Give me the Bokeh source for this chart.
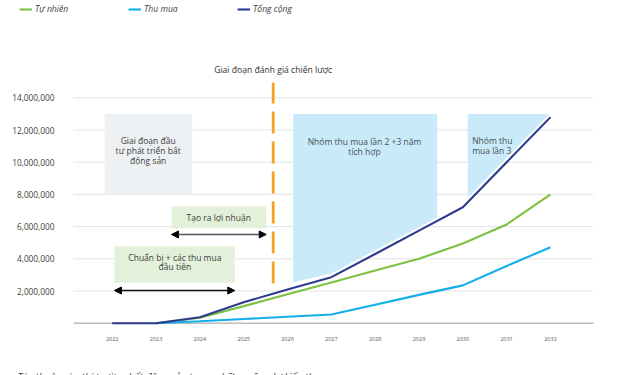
import numpy as np
from bokeh.plotting import figure
from bokeh.models import (FixedTicker, NumeralTickFormatter, Range1d, Label,
                          Arrow, NormalHead)
from bokeh.embed import file_html
from bokeh.resources import INLINE

FONT = "Open Sans"

# ---------------- data ----------------
years = [2022, 2023, 2024, 2025, 2026, 2027, 2028, 2029, 2030, 2031, 2032]
organic = [np.nan, 0, 0.34e6, 1.06e6, 1.80e6, 2.53e6, 3.27e6, 4.00e6, 4.95e6, 6.13e6, 8.00e6]
acquired = [np.nan, 0, 0.12e6, 0.26e6, 0.40e6, 0.54e6, 1.15e6, 1.76e6, 2.35e6, 3.55e6, 4.72e6]
total = [0, 0, 0.37e6, 1.30e6, 2.10e6, 2.86e6, 4.30e6, 5.75e6, 7.20e6, 10.00e6, 12.80e6]
y_ticks = [2e6, 4e6, 6e6, 8e6, 10e6, 12e6, 14e6]
series_names = ["Tự nhiên", "Thu mua", "Tổng cộng"]
series_colors = ["#7cc142", "#12aeea", "#2e3b8f"]

# annotation texts
title_text = "Giai đoạn đánh giá chiến lược"
phase1_lines = ["Giai đoạn đầu", "tư phát triển bất", "động sản"]
profit_text = "Tạo ra lợi nhuận"
prep_lines = ["Chuẩn bị + các thu mua", "đầu tiên"]
acq2_lines = ["Nhóm thu mua lần 2 +3 năm", "tích hợp"]
acq3_lines = ["Nhóm thu", "mua lần 3"]
footer_text = "Tùy thuộc vào thị trường bất động sản trong những năm dự kiến thu mua"

# plot-area extent (data units)
X_LO, X_HI = 2021.117, 2032.98

# ---------------- figure ----------------
p = figure(width=640, height=375,
           x_range=Range1d(2019.4516, 2034.0534),
           y_range=Range1d(-3.2484e6, 20.0435e6),
           output_backend="svg", toolbar_location=None,
           min_border_left=0, min_border_right=0,
           min_border_top=0, min_border_bottom=0)
p.outline_line_color = None
p.grid.visible = False

p.yaxis.fixed_location = X_LO
p.yaxis.ticker = FixedTicker(ticks=y_ticks)
p.yaxis.formatter = NumeralTickFormatter(format="0,0")
p.yaxis.axis_line_color = None
p.yaxis.major_tick_line_color = None
p.yaxis.minor_tick_line_color = None
p.yaxis.major_label_text_font_size = "8.3px"
p.yaxis.major_label_text_color = "#404040"
p.yaxis.major_label_text_font = FONT
p.yaxis.major_label_standoff = 13

p.xaxis.fixed_location = 0
p.xaxis.ticker = FixedTicker(ticks=years)
p.xaxis.axis_line_color = None
p.xaxis.major_tick_line_color = None
p.xaxis.minor_tick_line_color = None
p.xaxis.major_label_text_font_size = "5.5px"
p.xaxis.major_label_text_color = "#595959"
p.xaxis.major_label_text_font = FONT
p.xaxis.major_label_standoff = 8

# horizontal grid lines and baseline over the plot area
p.segment(x0=[X_LO] * len(y_ticks), x1=[X_HI] * len(y_ticks), y0=y_ticks, y1=y_ticks,
          line_color="#e4e4e4", line_width=1, level="underlay")

# ---------------- background boxes ----------------
p.quad(left=2021.824, right=2023.825, bottom=8.0e6, top=13.0e6,
       fill_color="#eef1f3", line_color=None)
p.quad(left=2023.353, right=2025.514, bottom=5.9e6, top=7.25e6,
       fill_color="#e3f0da", line_color=None)
p.quad(left=2022.05, right=2024.797, bottom=2.51e6, top=4.78e6,
       fill_color="#e3f0da", line_color=None)

gap = 0.22e6
box_top = 13.0e6
a2_x = [2026.13, 2029.415, 2029.415, 2027.0, 2026.13]
a2_y = [box_top, box_top,
        np.interp(2029.415, years, total) + gap,
        np.interp(2027.0, years, total) + gap,
        np.interp(2026.13, years, total) + gap + 0.12e6]
p.patch(a2_x, a2_y, fill_color="#c9ebf9", line_color=None)

tot_gap = np.array(total[2:]) + 0.27e6
x_star = float(np.interp(box_top, tot_gap, years[2:]))
a3_x0 = 2030.113
a3_x = [a3_x0, x_star, a3_x0]
a3_y = [box_top, box_top, np.interp(a3_x0, years, total) + 0.29e6]
p.patch(a3_x, a3_y, fill_color="#c9ebf9", line_color=None)

p.segment(x0=X_LO, x1=X_HI, y0=0, y1=0, line_color="#bdbdbd", line_width=1.6)

# ---------------- strategic line ----------------
p.segment(x0=2025.673, y0=2.47e6, x1=2025.673, y1=14.95e6,
          line_color="#f6a21c", line_width=2.8, line_dash="22 8")

# ---------------- series ----------------
for vals, name, col in zip([organic, acquired, total], series_names, series_colors):
    p.line(years, vals, line_color=col, line_width=2.1, legend_label=name)

# ---------------- legend ----------------
lg = p.legend[0]
lg.orientation = "horizontal"
lg.location = (19, 360)
lg.margin = 0
lg.padding = 0
lg.spacing = 0
lg.glyph_width = 13
lg.glyph_height = 10
lg.label_height = 10
lg.label_width = 93
lg.label_standoff = 3
lg.border_line_color = None
lg.background_fill_alpha = 0
lg.label_text_font = FONT
lg.label_text_font_style = "italic"
lg.label_text_font_size = "8.6px"
lg.label_text_color = "#404040"

# ---------------- texts ----------------
def label(x, y, text, align="center", color="#404040", size="8.5px", baseline="middle",
          style="normal"):
    p.add_layout(Label(x=x, y=y, text=text, text_align=align, text_baseline=baseline,
                       text_font=FONT, text_font_size=size, text_color=color,
                       text_font_style=style))

label(2025.673, 15.7e6, title_text, color="#333333", size="8.6px")
for i, t in enumerate(phase1_lines):
    label(2022.82, 11.35e6 - i * 0.62e6, t)
label(2024.43, 6.58e6, profit_text)
for i, t in enumerate(prep_lines):
    label(2023.43, 4.1e6 - i * 0.56e6, t)
for i, t in enumerate(acq2_lines):
    label(2027.756, 11.3e6 - i * 0.62e6, t, color="#4a4f55")
for i, t in enumerate(acq3_lines):
    label(2030.213, 11.35e6 - i * 0.62e6, t, align="left", color="#4a4f55")

# footer, cut by the lower edge as in the source
label(2019.839, -2.88e6, footer_text, align="left", size="10px", baseline="top",
      style="italic")

# ---------------- arrows ----------------
def dbl_arrow(x0, x1, y, col):
    p.add_layout(Arrow(start=NormalHead(size=7, fill_color="black", line_color="black"),
                       end=NormalHead(size=7, fill_color="black", line_color="black"),
                       x_start=x0, y_start=y, x_end=x1, y_end=y,
                       line_color=col, line_width=1.4))

dbl_arrow(2023.353, 2025.514, 5.51e6, "#555555")
dbl_arrow(2022.05, 2024.797, 2.03e6, "#111111")

open("out.html", "w").write(file_html(p, INLINE))
